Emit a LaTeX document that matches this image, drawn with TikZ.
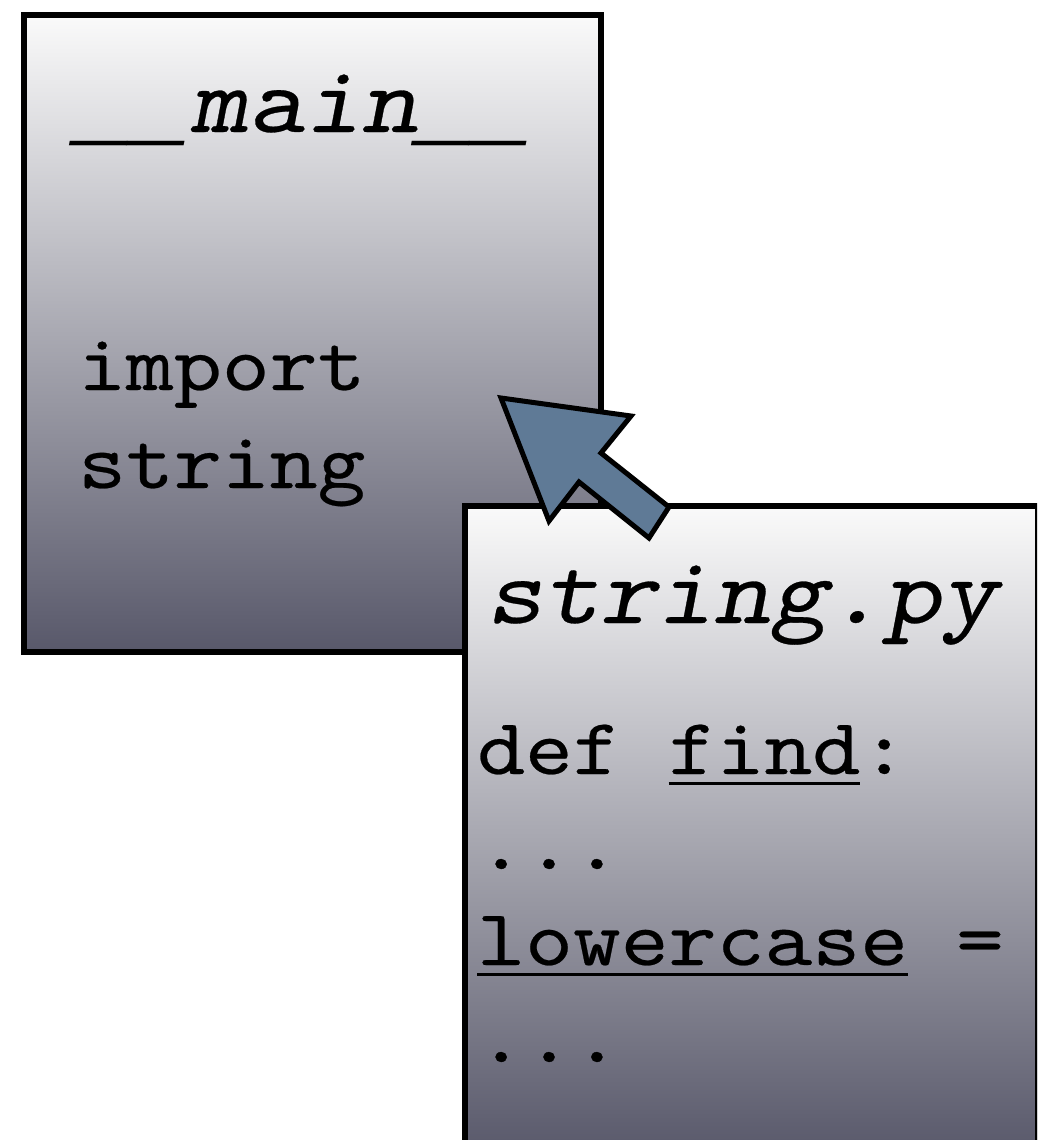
\documentclass[tikz,border=0pt]{standalone}
\usepackage{fontspec}
\newfontfamily\codefont{lmmono10-regular.otf}[ItalicFont=lmmonoslant10-regular.otf, FakeStretch=1.14, FakeBold=0.3]
\newfontfamily\usfont{Liberation Mono}
\newcommand\ulword[1]{\setbox0=\hbox{#1}\rlap{\raisebox{-11pt}{\rule{\wd0}{3.5pt}}}\box0\relax}
\newcommand\lowus{{\usfont\itshape\fontsize{95.5}{110}\selectfont\raisebox{-3pt}{\_}}}
\definecolor{boxtop}{RGB}{250,250,250}
\definecolor{boxbot}{RGB}{88,88,106}
\definecolor{arrowblue}{RGB}{95,122,150}
\tikzset{
  modbox/.style={draw=black, line width=6pt, rectangle, inner sep=0pt, anchor=north west,
    top color=boxtop, bottom color=boxbot},
  titletext/.style={inner sep=0pt, anchor=base west, font=\codefont\itshape\fontsize{95}{110}\selectfont},
  codetext/.style={inner sep=0pt, anchor=base west, font=\codefont\fontsize{80}{96}\selectfont},
  blockarrow/.style={draw=black, line width=5pt, line join=miter, fill=arrowblue}
}
\begin{document}
\begin{tikzpicture}[x=1pt,y=-1pt]
\clip (0,0) rectangle (1037,1140);
\fill[white] (0,0) rectangle (1037,1140);
% main module box
\node[modbox, minimum width=576.5pt, minimum height=637pt] (mainbox) at (21,12) {};
\node[titletext] (maintitle) at (76,132) {\lowus\lowus main\lowus\lowus};
\node[codetext] (imp) at (78,390) {import};
\node[codetext] (impstr) at (78,488) {string};
% string.py box
\node[modbox, minimum width=573pt, minimum height=650pt] (strbox) at (461.5,503) {};
\node[titletext] (strtitle) at (486,623) {string.py};
\node[codetext] (deffind) at (477,774) {def \ulword{find}:};
\node[codetext] (dots1) at (477,869) {...};
\node[codetext] (lower) at (477,965) {\ulword{lowercase} =};
\node[codetext] (dots2) at (477,1062) {...};
% block arrow from string.py to __main__
\draw[blockarrow] (501,398) -- (549,521) -- (579,482) -- (649,538) -- (669,507)
  -- (601,453) -- (631,416) -- cycle;
\end{tikzpicture}
\end{document}
